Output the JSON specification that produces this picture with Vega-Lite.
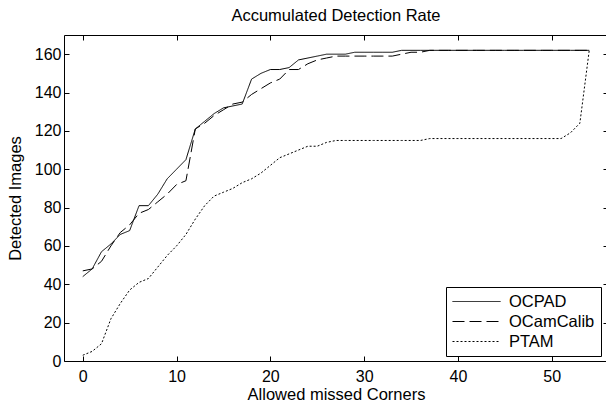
{
  "$schema": "https://vega.github.io/schema/vega-lite/v6.json",
  "width": 544,
  "height": 326,
  "autosize": {"type": "none"},
  "padding": {"left": 64, "top": 35, "right": 0, "bottom": 43},
  "background": "white",
  "config": {
    "font": "Liberation Sans",
    "view": {"stroke": "black", "strokeWidth": 1},
    "axis": {
      "grid": false,
      "domain": false,
      "tickColor": "black",
      "tickSize": -5,
      "tickWidth": 1,
      "labelColor": "black",
      "labelFontSize": 16,
      "titleColor": "black",
      "titleFontSize": 16.5,
      "titleFontWeight": "normal"
    },
    "legend": {
      "orient": "none",
      "legendX": 382,
      "legendY": 252,
      "title": null,
      "strokeColor": "black",
      "fillColor": "white",
      "padding": 6,
      "rowPadding": 3,
      "labelFontSize": 16.5,
      "labelColor": "black",
      "symbolType": "M-3,0L3,0",
      "symbolSize": 256,
      "symbolOffset": 16,
      "labelOffset": 24,
      "symbolStrokeColor": "black",
      "symbolFillColor": "transparent",
      "symbolStrokeWidth": 1
    }
  },
  "title": {
    "text": "Accumulated Detection Rate",
    "fontSize": 16.5,
    "fontWeight": "normal",
    "color": "black",
    "offset": 10
  },
  "data": {
    "values": [
      {"x": 0, "OCPAD": 44, "OCamCalib": 47, "PTAM": 3},
      {"x": 1, "OCPAD": 48, "OCamCalib": 48, "PTAM": 5},
      {"x": 2, "OCPAD": 57, "OCamCalib": 52, "PTAM": 9},
      {"x": 3, "OCPAD": 61, "OCamCalib": 60, "PTAM": 22},
      {"x": 4, "OCPAD": 66, "OCamCalib": 67, "PTAM": 30},
      {"x": 5, "OCPAD": 68, "OCamCalib": 71, "PTAM": 37},
      {"x": 6, "OCPAD": 81, "OCamCalib": 77, "PTAM": 41},
      {"x": 7, "OCPAD": 81, "OCamCalib": 79, "PTAM": 43},
      {"x": 8, "OCPAD": 87, "OCamCalib": 83, "PTAM": 49},
      {"x": 9, "OCPAD": 95, "OCamCalib": 87, "PTAM": 55},
      {"x": 10, "OCPAD": 100, "OCamCalib": 92, "PTAM": 60},
      {"x": 11, "OCPAD": 105, "OCamCalib": 94, "PTAM": 66},
      {"x": 12, "OCPAD": 121, "OCamCalib": 121, "PTAM": 74},
      {"x": 13, "OCPAD": 125, "OCamCalib": 124, "PTAM": 81},
      {"x": 14, "OCPAD": 129, "OCamCalib": 128, "PTAM": 86},
      {"x": 15, "OCPAD": 132, "OCamCalib": 131, "PTAM": 88},
      {"x": 16, "OCPAD": 133, "OCamCalib": 134, "PTAM": 90},
      {"x": 17, "OCPAD": 134, "OCamCalib": 135, "PTAM": 93},
      {"x": 18, "OCPAD": 147, "OCamCalib": 139, "PTAM": 95},
      {"x": 19, "OCPAD": 150, "OCamCalib": 142, "PTAM": 98},
      {"x": 20, "OCPAD": 152, "OCamCalib": 145, "PTAM": 102},
      {"x": 21, "OCPAD": 152, "OCamCalib": 147, "PTAM": 106},
      {"x": 22, "OCPAD": 153, "OCamCalib": 152, "PTAM": 108},
      {"x": 23, "OCPAD": 157, "OCamCalib": 152, "PTAM": 110},
      {"x": 24, "OCPAD": 158, "OCamCalib": 155, "PTAM": 112},
      {"x": 25, "OCPAD": 159, "OCamCalib": 157, "PTAM": 112},
      {"x": 26, "OCPAD": 160, "OCamCalib": 158, "PTAM": 114},
      {"x": 27, "OCPAD": 160, "OCamCalib": 159, "PTAM": 115},
      {"x": 28, "OCPAD": 160, "OCamCalib": 159, "PTAM": 115},
      {"x": 29, "OCPAD": 161, "OCamCalib": 159, "PTAM": 115},
      {"x": 30, "OCPAD": 161, "OCamCalib": 159, "PTAM": 115},
      {"x": 31, "OCPAD": 161, "OCamCalib": 159, "PTAM": 115},
      {"x": 32, "OCPAD": 161, "OCamCalib": 159, "PTAM": 115},
      {"x": 33, "OCPAD": 161, "OCamCalib": 159, "PTAM": 115},
      {"x": 34, "OCPAD": 162, "OCamCalib": 160, "PTAM": 115},
      {"x": 35, "OCPAD": 162, "OCamCalib": 161, "PTAM": 115},
      {"x": 36, "OCPAD": 162, "OCamCalib": 161, "PTAM": 115},
      {"x": 37, "OCPAD": 162, "OCamCalib": 162, "PTAM": 116},
      {"x": 38, "OCPAD": 162, "OCamCalib": 162, "PTAM": 116},
      {"x": 39, "OCPAD": 162, "OCamCalib": 162, "PTAM": 116},
      {"x": 40, "OCPAD": 162, "OCamCalib": 162, "PTAM": 116},
      {"x": 41, "OCPAD": 162, "OCamCalib": 162, "PTAM": 116},
      {"x": 42, "OCPAD": 162, "OCamCalib": 162, "PTAM": 116},
      {"x": 43, "OCPAD": 162, "OCamCalib": 162, "PTAM": 116},
      {"x": 44, "OCPAD": 162, "OCamCalib": 162, "PTAM": 116},
      {"x": 45, "OCPAD": 162, "OCamCalib": 162, "PTAM": 116},
      {"x": 46, "OCPAD": 162, "OCamCalib": 162, "PTAM": 116},
      {"x": 47, "OCPAD": 162, "OCamCalib": 162, "PTAM": 116},
      {"x": 48, "OCPAD": 162, "OCamCalib": 162, "PTAM": 116},
      {"x": 49, "OCPAD": 162, "OCamCalib": 162, "PTAM": 116},
      {"x": 50, "OCPAD": 162, "OCamCalib": 162, "PTAM": 116},
      {"x": 51, "OCPAD": 162, "OCamCalib": 162, "PTAM": 116},
      {"x": 52, "OCPAD": 162, "OCamCalib": 162, "PTAM": 119},
      {"x": 53, "OCPAD": 162, "OCamCalib": 162, "PTAM": 124},
      {"x": 54, "OCPAD": 162, "OCamCalib": 162, "PTAM": 162}
    ]
  },
  "transform": [
    {"fold": ["OCPAD", "OCamCalib", "PTAM"], "as": ["method", "value"]}
  ],
  "layer": [
    {
      "mark": {"type": "line", "color": "black", "strokeWidth": 1},
      "encoding": {
        "x": {
          "field": "x",
          "type": "quantitative",
          "scale": {"domain": [-2, 56], "nice": false, "zero": false},
          "axis": {
            "orient": "bottom",
            "values": [0, 10, 20, 30, 40, 50],
            "title": "Allowed missed Corners",
            "labelPadding": 12,
            "titlePadding": 2
          }
        },
        "y": {
          "field": "value",
          "type": "quantitative",
          "scale": {"domain": [0, 170], "nice": false},
          "axis": {
            "orient": "left",
            "values": [0, 20, 40, 60, 80, 100, 120, 140, 160],
            "title": "Detected Images",
            "labelPadding": 8,
            "titlePadding": 11
          }
        },
        "strokeDash": {
          "field": "method",
          "type": "nominal",
          "scale": {
            "domain": ["OCPAD", "OCamCalib", "PTAM"],
            "range": [[1, 0], [12, 5], [2, 2]]
          },
          "legend": {}
        },
        "detail": {"field": "method"}
      }
    },
    {
      "mark": {"type": "line", "opacity": 0},
      "encoding": {
        "x": {
          "field": "x",
          "type": "quantitative",
          "axis": {"orient": "top", "values": [0, 10, 20, 30, 40, 50], "labels": false, "title": null}
        },
        "y": {
          "field": "value",
          "type": "quantitative",
          "axis": {"orient": "right", "values": [0, 20, 40, 60, 80, 100, 120, 140, 160], "labels": false, "title": null}
        },
        "detail": {"field": "method"}
      }
    }
  ],
  "resolve": {"axis": {"x": "independent", "y": "independent"}}
}
